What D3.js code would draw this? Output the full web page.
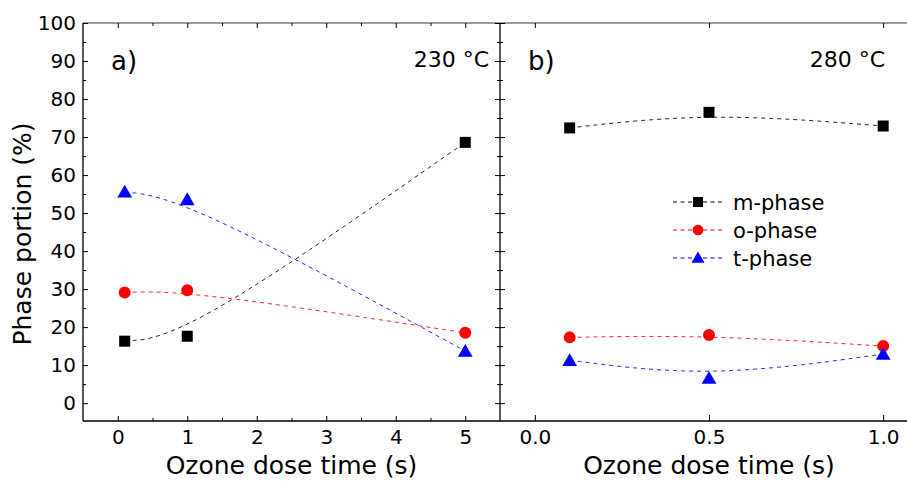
<!DOCTYPE html>
<html>
<head>
<meta charset="utf-8">
<script src="https://cdn.jsdelivr.net/npm/d3@7"></script>
<style>
  html, body { margin: 0; padding: 0; background: #fff; }
  svg { display: block; font-family: "DejaVu Sans", Verdana, sans-serif; }
</style>
</head>
<body>
<svg id="chart" width="907" height="481"></svg>
<script>
// Phase fractions vs ozone dose time at two deposition temperatures
const phases = ["m-phase", "o-phase", "t-phase"];
const phaseColors = ["#000000", "#ff0000", "#0000ff"];

// Panel a) 230 °C
const doseA = [0.1, 1, 5];
const mA = [16.3, 17.6, 68.6];
const oA = [29.1, 29.7, 18.5];
const tA = [55.6, 53.6, 13.7];

// Panel b) 280 °C
const doseB = [0.1, 0.5, 1.0];
const mB = [72.4, 76.5, 72.9];
const oB = [17.3, 17.9, 15.0];
const tB = [11.3, 6.6, 12.9];

const yMajor = [0, 10, 20, 30, 40, 50, 60, 70, 80, 90, 100];
const yMinor = [5, 15, 25, 35, 45, 55, 65, 75, 85, 95];
const xMajorA = [0, 1, 2, 3, 4, 5];
const xMinorA = [0.5, 1.5, 2.5, 3.5, 4.5];
const xMajorB = [0.0, 0.5, 1.0];

const svg = d3.select("#chart");
const plotTop = 23, plotBottom = 421;
const leftA = 83, mid = 500, rightB = 918;

const y = d3.scaleLinear().domain([-4.7, 100]).range([plotBottom, plotTop]);
const xA = d3.scaleLinear().domain([-0.5, 5.5]).range([leftA, mid]);
const xB = d3.scaleLinear().domain([-0.1, 1.1]).range([mid, rightB]);

const tickFont = 20;

function styleAxis(g, showText) {
  g.select(".domain").remove();
  g.selectAll(".tick line").attr("stroke", "#000").attr("stroke-width", 1);
  if (!showText) g.selectAll(".tick text").remove();
  else g.selectAll(".tick text").attr("fill", "#000").attr("font-size", tickFont).attr("font-family", "DejaVu Sans, Verdana, sans-serif");
}

// ---- frame lines
svg.append("line").attr("x1", leftA).attr("x2", 907).attr("y1", plotTop).attr("y2", plotTop)
  .attr("stroke", "#7a7a7a").attr("stroke-width", 1.6);
svg.append("line").attr("x1", leftA).attr("x2", 907).attr("y1", plotBottom).attr("y2", plotBottom)
  .attr("stroke", "#000").attr("stroke-width", 1.3);
svg.append("line").attr("x1", leftA).attr("x2", leftA).attr("y1", plotTop).attr("y2", plotBottom)
  .attr("stroke", "#000").attr("stroke-width", 1.3);
svg.append("line").attr("x1", mid).attr("x2", mid).attr("y1", plotTop).attr("y2", plotBottom)
  .attr("stroke", "#000").attr("stroke-width", 1.3);

// ---- y axes (left of panel a, both sides of the shared border)
svg.append("g").attr("transform", `translate(${leftA},0)`)
  .call(d3.axisLeft(y).tickValues(yMajor).tickSize(-5).tickPadding(7).tickFormat(d3.format("d")))
  .call(g => styleAxis(g, true));
svg.append("g").attr("transform", `translate(${leftA},0)`)
  .call(d3.axisLeft(y).tickValues(yMinor).tickSize(-3))
  .call(g => styleAxis(g, false));
svg.append("g").attr("transform", `translate(${mid},0)`)
  .call(d3.axisRight(y).tickValues(yMajor).tickSize(-5))
  .call(g => styleAxis(g, false));
svg.append("g").attr("transform", `translate(${mid},0)`)
  .call(d3.axisRight(y).tickValues(yMinor).tickSize(-3))
  .call(g => styleAxis(g, false));
svg.append("g").attr("transform", `translate(${mid},0)`)
  .call(d3.axisLeft(y).tickValues(yMajor).tickSize(-5))
  .call(g => styleAxis(g, false));
svg.append("g").attr("transform", `translate(${mid},0)`)
  .call(d3.axisLeft(y).tickValues(yMinor).tickSize(-3))
  .call(g => styleAxis(g, false));

// ---- x axes panel a
svg.append("g").attr("transform", `translate(0,${plotBottom})`)
  .call(d3.axisBottom(xA).tickValues(xMajorA).tickSize(-5).tickPadding(9).tickFormat(d3.format("d")))
  .call(g => styleAxis(g, true));
svg.append("g").attr("transform", `translate(0,${plotBottom})`)
  .call(d3.axisBottom(xA).tickValues(xMinorA).tickSize(-3))
  .call(g => styleAxis(g, false));
svg.append("g").attr("transform", `translate(0,${plotTop})`)
  .call(d3.axisTop(xA).tickValues(xMajorA).tickSize(-5))
  .call(g => styleAxis(g, false));
svg.append("g").attr("transform", `translate(0,${plotTop})`)
  .call(d3.axisTop(xA).tickValues(xMinorA).tickSize(-3))
  .call(g => styleAxis(g, false));

// ---- x axes panel b
svg.append("g").attr("transform", `translate(0,${plotBottom})`)
  .call(d3.axisBottom(xB).tickValues(xMajorB).tickSize(-6).tickPadding(9).tickFormat(d3.format(".1f")))
  .call(g => styleAxis(g, true));
svg.append("g").attr("transform", `translate(0,${plotTop})`)
  .call(d3.axisTop(xB).tickValues(xMajorB).tickSize(-5))
  .call(g => styleAxis(g, false));

// ---- axis titles
svg.append("text")
  .attr("transform", `translate(31,${(plotTop + plotBottom) / 2 + 12}) rotate(-90)`)
  .attr("text-anchor", "middle").attr("font-size", 25).attr("fill", "#000")
  .text("Phase portion (%)");
svg.append("text").attr("x", (leftA + mid) / 2).attr("y", 474)
  .attr("text-anchor", "middle").attr("font-size", 25).attr("fill", "#000")
  .text("Ozone dose time (s)");
svg.append("text").attr("x", (mid + rightB) / 2).attr("y", 474)
  .attr("text-anchor", "middle").attr("font-size", 25).attr("fill", "#000")
  .text("Ozone dose time (s)");

// ---- panel labels
svg.append("text").attr("x", 111).attr("y", 70).attr("font-size", 26).attr("fill", "#000").text("a)");
svg.append("text").attr("x", 489).attr("y", 67).attr("text-anchor", "end").attr("font-size", 22).attr("fill", "#000").text("230 °C");
svg.append("text").attr("x", 528).attr("y", 70).attr("font-size", 26).attr("fill", "#000").text("b)");
svg.append("text").attr("x", 885).attr("y", 67).attr("text-anchor", "end").attr("font-size", 22).attr("fill", "#000").text("280 °C");

// ---- markers
const symbols = [d3.symbolSquare, d3.symbolCircle, d3.symbolTriangle];
const symSizes = [121, 113, 95];
const legendSizes = [100, 90, 75];

function drawPanel(xs, doses, seriesList) {
  const g = svg.append("g");
  seriesList.forEach((vals, i) => {
    const pts = doses.map((d, k) => [xs(d), y(vals[k])]);
    g.append("path")
      .attr("d", d3.line().curve(d3.curveBasis)(pts))
      .attr("fill", "none").attr("stroke", phaseColors[i])
      .attr("stroke-width", 1).attr("stroke-dasharray", "4,4")
      .attr("opacity", 0.85);
  });
  seriesList.forEach((vals, i) => {
    g.selectAll(null).data(doses).enter().append("path")
      .attr("transform", (d, k) => `translate(${xs(d)},${y(vals[k]) + (i === 2 ? 1.5 : 0)})`)
      .attr("d", d3.symbol().type(symbols[i]).size(symSizes[i])())
      .attr("fill", phaseColors[i]);
  });
}

drawPanel(xA, doseA, [mA, oA, tA]);
drawPanel(xB, doseB, [mB, oB, tB]);

// ---- legend
const legendX = 698, legendY0 = 202, legendStep = 28;
phases.forEach((name, i) => {
  const ly = legendY0 + i * legendStep;
  svg.append("line").attr("x1", 673).attr("x2", 725).attr("y1", ly).attr("y2", ly)
    .attr("stroke", phaseColors[i]).attr("stroke-width", 1).attr("stroke-dasharray", "4,3.5");
  svg.append("path")
    .attr("transform", `translate(${legendX},${ly + (i === 2 ? 1 : 0)})`)
    .attr("d", d3.symbol().type(symbols[i]).size(legendSizes[i])())
    .attr("fill", phaseColors[i]);
  svg.append("text").attr("x", 733).attr("y", ly + 7.5)
    .attr("font-size", 21).attr("fill", "#000").text(name);
});
</script>
</body>
</html>
